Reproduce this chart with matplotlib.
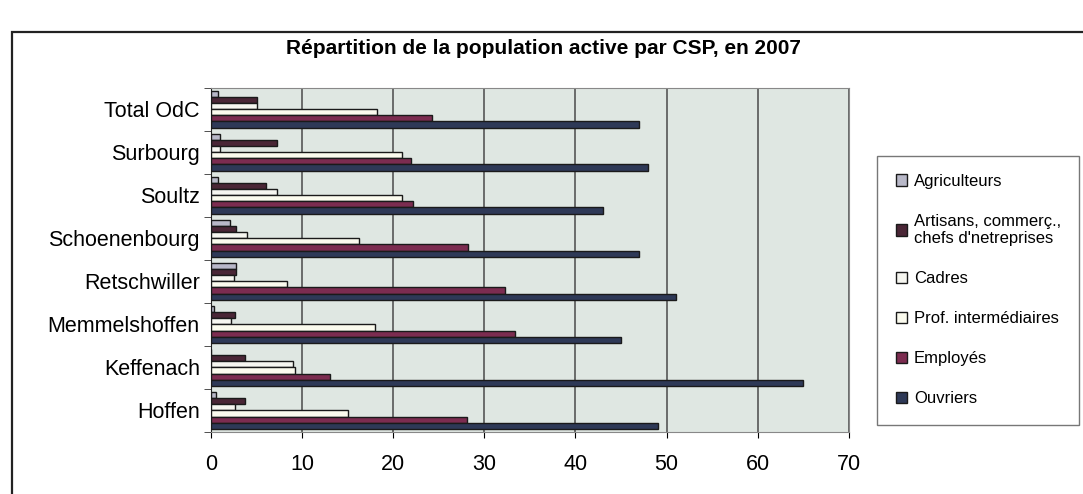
import numpy as np
import matplotlib
matplotlib.use("Agg")
import matplotlib.pyplot as plt
from matplotlib.patches import Rectangle

plt.rcParams['font.family'] = ['Liberation Sans', 'DejaVu Sans']

# communes, bottom to top as drawn
communes = ["Hoffen", "Keffenach", "Memmelshoffen", "Retschwiller",
            "Schoenenbourg", "Soultz", "Surbourg", "Total OdC"]

series = ["Agriculteurs", "Artisans, commerç.,\nchefs d'netreprises", "Cadres",
          "Prof. intermédiaires", "Employés", "Ouvriers"]

# percentages of the active population, same order as communes
agriculteurs = [0.5, 0.0, 0.3, 2.8, 2.1, 0.8, 1.0, 0.8]
artisans     = [3.7, 3.7, 2.6, 2.8, 2.8, 6.0, 7.2, 5.1]
cadres       = [2.6, 9.0, 2.2, 2.5, 3.9, 7.3, 1.0, 5.0]
prof_inter   = [15.0, 9.2, 18.0, 8.3, 16.2, 21.0, 21.0, 18.2]
employes     = [28.1, 13.1, 33.4, 32.3, 28.2, 22.2, 22.0, 24.3]
ouvriers     = [49.1, 65.0, 45.0, 51.0, 47.0, 43.0, 48.0, 47.0]

values = [agriculteurs, artisans, cadres, prof_inter, employes, ouvriers]
colors = ["#b8b8c8", "#4a2636", "#f6f6f0", "#fbfbee", "#7c2c50", "#2e3957"]

fig = plt.figure(figsize=(10.83, 4.94), dpi=100)
ax = fig.add_axes([0.1948, 0.1255, 0.589, 0.6965])
ax.set_facecolor("#dfe7e2")

y = np.arange(len(communes))
h = 0.14
for i, (vals, col) in enumerate(zip(values, colors)):
    ax.barh(y + (2.5 - i) * h, vals, height=h, color=col,
            edgecolor="#1a1a1a", linewidth=1.0, label=series[i], zorder=3)

ax.set_xlim(0, 70)
ax.set_ylim(-0.5, len(communes) - 0.5)
ax.set_xticks(np.arange(0, 71, 10))
ax.xaxis.grid(True, color="#4a4a4a", linewidth=1.1, zorder=1)
ax.set_axisbelow(True)

ax.set_yticks(y)
ax.set_yticklabels(communes, fontsize=15.5)
ax.set_yticks(np.arange(-0.5, len(communes), 1), minor=True)
ax.tick_params(axis="y", which="major", length=0, pad=8)
ax.tick_params(axis="y", which="minor", length=5, color="#333333")
ax.tick_params(axis="x", labelsize=15.5, length=4, pad=12)

for side in ["top", "right", "bottom"]:
    ax.spines[side].set_color("#888888")
ax.spines["left"].set_color("#222222")

fig.text(0.502, 0.902, "Répartition de la population active par CSP, en 2007",
         ha="center", va="center", fontsize=15, fontweight="bold")

leg = fig.legend(loc="upper left", bbox_to_anchor=(0.81, 0.685), fontsize=12,
                 frameon=True, fancybox=False, edgecolor="#555555",
                 handlelength=0.7, handleheight=0.7, handletextpad=0.4,
                 labelspacing=1.5, borderpad=1.1, borderaxespad=0)
leg.get_frame().set_linewidth(1.0)

# outer chart frame
fig.patches.append(Rectangle((0.011, -0.05), 1.2, 0.985, transform=fig.transFigure,
                             fill=False, edgecolor="#222222", linewidth=1.6))

fig.savefig("out.png", dpi=100)
